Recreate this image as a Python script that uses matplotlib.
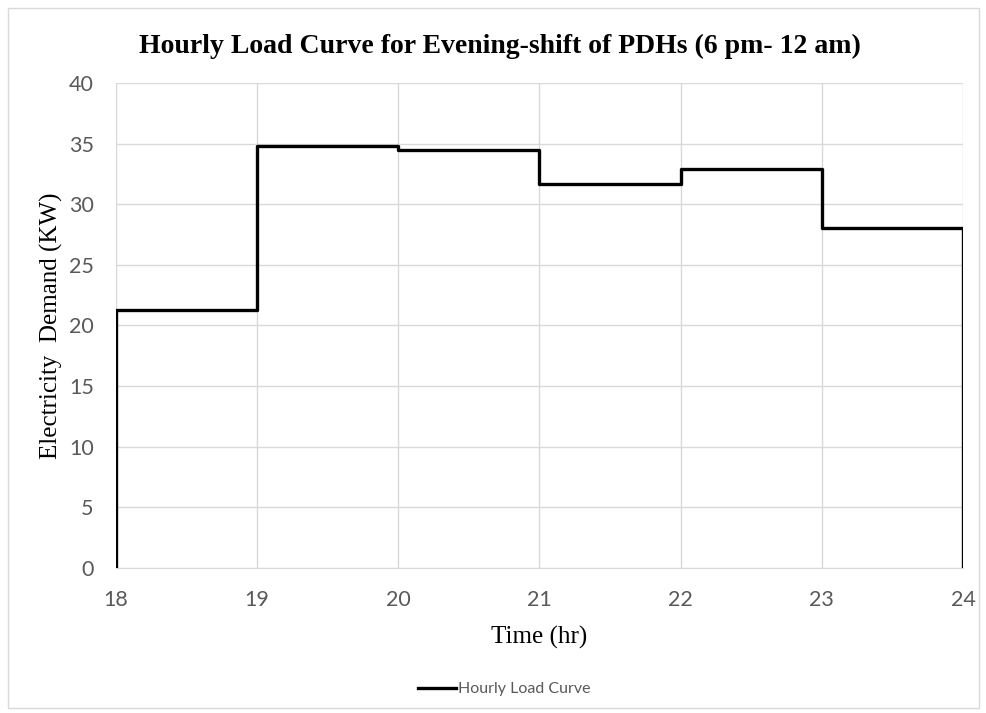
import matplotlib

matplotlib.use("Agg")
import matplotlib.pyplot as plt
from matplotlib.patches import Rectangle

# hourly load, evening shift (6 pm - 12 am)
hours = [18, 19, 20, 21, 22, 23, 24]
loads = [21.3, 34.8, 34.5, 31.7, 32.9, 28.0]
y_ticks = [0, 5, 10, 15, 20, 25, 30, 35, 40]

TICK_GREY = "#595959"
GRID_GREY = "#d9d9d9"

fig = plt.figure(figsize=(9.87, 7.13), dpi=100)
ax = fig.add_axes([0.1175, 0.2034, 0.8582, 0.6802])

# step curve that starts and ends on the x-axis
step_x = [hours[0]] + hours + [hours[-1]]
step_y = [0] + loads + [loads[-1], 0]
ax.step(step_x, step_y, where="post", color="black", linewidth=2.4,
        label="Hourly Load Curve", zorder=3)

ax.set_xlim(18, 24)
ax.set_ylim(0, 40)
ax.set_xticks(hours)
ax.set_yticks(y_ticks)
ax.grid(True, color=GRID_GREY, linewidth=1.0)
ax.set_axisbelow(True)
for side in ["top", "right", "left"]:
    ax.spines[side].set_visible(False)
ax.spines["bottom"].set_color(GRID_GREY)
ax.tick_params(length=0, labelsize=15.5, colors=TICK_GREY)
ax.tick_params(axis="x", pad=16)
ax.tick_params(axis="y", pad=16)
for lbl in ax.get_xticklabels() + ax.get_yticklabels():
    lbl.set_fontfamily("Lato")

ax.set_xlabel("Time (hr)", fontfamily="Liberation Serif", fontsize=18, labelpad=11)
ax.set_ylabel("Electricity  Demand (KW)", fontfamily="Liberation Serif", fontsize=18,
              labelpad=4)
fig.text(0.507, 0.935, "Hourly Load Curve for Evening-shift of PDHs (6 pm- 12 am)",
         ha="center", va="center", fontfamily="Liberation Serif",
         fontweight="bold", fontsize=20)

leg = ax.legend(loc="center", bbox_to_anchor=(0.458, -0.25), frameon=False,
                handlelength=2.4, handletextpad=0.1,
                prop={"family": "Lato", "size": 11.5})
for txt in leg.get_texts():
    txt.set_color(TICK_GREY)

# chart-area border
fig.patches.append(Rectangle((0.008, 0.007), 0.984, 0.982, transform=fig.transFigure,
                             fill=False, edgecolor=GRID_GREY, linewidth=1.0))

fig.savefig("out.png", dpi=100)
